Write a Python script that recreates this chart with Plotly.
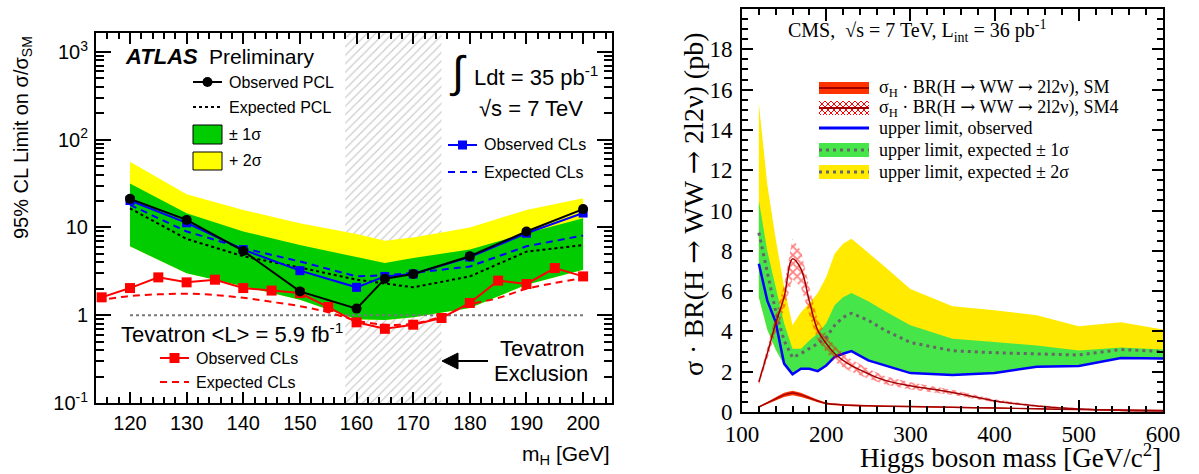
import base64
import plotly.graph_objects as go

# ---------------- ATLAS panel (log scale) ----------------
mass_atlas = [120, 130, 140, 150, 160, 165, 170, 180, 190, 200]
obs_pcl = [21.2, 12.2, 5.4, 1.87, 1.19, 2.6, 2.95, 4.7, 9.0, 16.2]
exp_pcl = [16.5, 7.4, 4.7, 3.5, 2.54, 2.3, 2.08, 2.77, 5.3, 6.3]
obs_cls = [20.3, 11.3, 5.6, 3.22, 2.08, 2.77, 2.95, 4.6, 8.6, 14.6]
exp_cls = [18.1, 9.0, 5.8, 4.1, 2.77, 2.85, 3.03, 3.6, 6.1, 8.1]
band1_lo = [6.1, 3.0, 2.14, 1.5, 0.9, 0.88, 0.95, 1.21, 2.23, 3.3]
band1_hi = [31.8, 14.5, 9.0, 6.3, 4.6, 3.93, 4.5, 5.6, 8.6, 12.7]
band2_hi = [56.0, 23.9, 15.8, 11.2, 8.4, 7.07, 7.7, 10.0, 15.8, 21.5]

tev_mass = [115, 120, 125, 130, 135, 140, 145, 150, 155, 160, 165, 170, 175, 180, 185, 190, 195, 200]
tev_obs = [1.6, 2.04, 2.7, 2.37, 2.54, 2.04, 1.91, 1.79, 1.24, 0.83, 0.7, 0.78, 0.93, 1.38, 2.48, 2.27, 3.45, 2.77]
tev_exp_mass = [110, 115, 120, 125, 130, 135, 140, 145, 150, 155, 160, 165, 170, 175, 180, 185, 190, 195, 200]
tev_exp = [1.38, 1.5, 1.66, 1.73, 1.76, 1.7, 1.58, 1.42, 1.27, 1.08, 0.87, 0.78, 0.8, 0.97, 1.32, 1.57, 2.0, 2.33, 2.65]

tev_excl = [158, 175]          # Tevatron excluded mass window
sm_ratio_mass = [120, 200]
sm_ratio = [1, 1]

# ---------------- CMS panel (linear scale) ----------------
mass_cms = [120, 130, 140, 150, 160, 170, 180, 190, 200, 210, 220, 230, 250, 270, 300, 350, 400, 450, 500, 550, 600]
obs_cms = [7.36, 5.54, 4.46, 2.4, 1.87, 2.15, 2.15, 2.03, 2.31, 2.73, 2.89, 3.02, 2.56, 2.31, 1.93, 1.84, 1.93, 2.25, 2.28, 2.68, 2.65]
exp_cms = [8.9, 7.0, 5.0, 3.55, 2.7, 2.9, 3.14, 3.4, 3.7, 4.3, 4.7, 4.9, 4.55, 4.05, 3.45, 3.04, 2.94, 2.9, 2.83, 3.1, 3.0]
cms1_lo = [5.7, 4.1, 3.1, 2.35, 1.87, 2.15, 2.15, 2.03, 2.31, 2.73, 2.89, 3.02, 2.56, 2.31, 1.93, 1.84, 1.93, 2.25, 2.28, 2.68, 2.65]
cms1_hi = [10.5, 8.0, 6.2, 4.4, 3.14, 3.14, 3.55, 3.9, 4.4, 5.3, 5.7, 5.9, 5.5, 5.0, 4.3, 3.64, 3.47, 3.3, 3.05, 3.2, 3.1]
cms2_hi = [15.3, 11.3, 8.6, 6.2, 4.3, 4.95, 5.4, 5.9, 6.7, 7.85, 8.35, 8.6, 7.9, 7.2, 6.1, 5.25, 5.05, 4.8, 4.25, 4.45, 4.1]

sm_xs = [0.25, 0.45, 0.65, 0.85, 0.94, 0.85, 0.7, 0.55, 0.42, 0.38, 0.35, 0.33, 0.31, 0.29, 0.27, 0.23, 0.2, 0.16, 0.12, 0.1, 0.08]
sm_lo = [0.22, 0.40, 0.57, 0.75, 0.83, 0.75, 0.62, 0.49, 0.37, 0.34, 0.31, 0.29, 0.27, 0.26, 0.24, 0.2, 0.17, 0.14, 0.1, 0.08, 0.06]
sm_hi = [0.28, 0.50, 0.73, 0.95, 1.05, 0.95, 0.78, 0.61, 0.47, 0.42, 0.39, 0.37, 0.35, 0.32, 0.3, 0.26, 0.23, 0.18, 0.14, 0.12, 0.1]
sm4_xs = [1.49, 2.9, 4.4, 5.7, 7.6, 7.1, 5.5, 4.05, 3.4, 2.9, 2.56, 2.3, 1.9, 1.57, 1.3, 0.97, 0.55, 0.3, 0.15, 0.08, 0.05]
sm4_lo = [1.34, 2.6, 3.95, 5.1, 6.6, 6.2, 4.8, 3.55, 2.95, 2.5, 2.21, 2.0, 1.65, 1.37, 1.12, 0.84, 0.47, 0.25, 0.11, 0.05, 0.03]
sm4_hi = [1.64, 3.2, 4.85, 6.3, 8.6, 8.0, 6.2, 4.55, 3.85, 3.3, 2.91, 2.6, 2.15, 1.77, 1.48, 1.1, 0.63, 0.35, 0.19, 0.11, 0.07]

W, H = 1199, 474
SANS = "Liberation Sans"
SERIF = "Liberation Serif"
ARROW = "<span style='font-family:DejaVu Serif'>→</span>"

ATLAS_GREEN = "#00cc00"
ATLAS_YELLOW = "#ffff00"
CMS_GREEN = "#46e64a"
CMS_YELLOW = "#ffea00"


def PX(x):
    return x / W


def PY(y):
    return 1 - y / H


def band(xs, lo, hi):
    return list(xs) + list(xs)[::-1], list(hi) + list(lo)[::-1]


fig = go.Figure()

# ---- left panel ----
fig.add_trace(go.Scatter(
    x=[tev_excl[0], tev_excl[1], tev_excl[1], tev_excl[0]], y=[0.05, 0.05, 5000, 5000],
    fill="toself", mode="none", fillcolor="rgba(255,255,255,0)",
    fillpattern=dict(shape="/", fgcolor="#999999", bgcolor="white", size=6, solidity=0.2),
    xaxis="x", yaxis="y", hoverinfo="skip"))
bx, by = band(mass_atlas, band1_lo, band2_hi)
fig.add_trace(go.Scatter(x=bx, y=by, fill="toself", fillcolor=ATLAS_YELLOW, mode="none",
                         xaxis="x", yaxis="y", hoverinfo="skip"))
bx, by = band(mass_atlas, band1_lo, band1_hi)
fig.add_trace(go.Scatter(x=bx, y=by, fill="toself", fillcolor=ATLAS_GREEN, mode="none",
                         xaxis="x", yaxis="y", hoverinfo="skip"))
fig.add_trace(go.Scatter(x=sm_ratio_mass, y=sm_ratio, mode="lines",
                         line=dict(color="#777777", width=2, dash="3px,3px"), xaxis="x", yaxis="y"))
fig.add_trace(go.Scatter(x=tev_exp_mass, y=tev_exp, mode="lines", line_shape="spline",
                         line=dict(color="red", width=2, dash="7px,5px"), xaxis="x", yaxis="y"))
fig.add_trace(go.Scatter(x=tev_mass, y=tev_obs, mode="lines+markers",
                         line=dict(color="red", width=2),
                         marker=dict(symbol="square", size=10, color="red"), xaxis="x", yaxis="y"))
fig.add_trace(go.Scatter(x=mass_atlas, y=exp_pcl, mode="lines",
                         line=dict(color="black", width=2, dash="3px,3px"), xaxis="x", yaxis="y"))
fig.add_trace(go.Scatter(x=mass_atlas, y=exp_cls, mode="lines",
                         line=dict(color="blue", width=2, dash="7px,5px"), xaxis="x", yaxis="y"))
fig.add_trace(go.Scatter(x=mass_atlas, y=obs_cls, mode="lines+markers",
                         line=dict(color="blue", width=2),
                         marker=dict(symbol="square", size=9, color="blue"), xaxis="x", yaxis="y"))
fig.add_trace(go.Scatter(x=mass_atlas, y=obs_pcl, mode="lines+markers",
                         line=dict(color="black", width=2),
                         marker=dict(symbol="circle", size=10, color="black"), xaxis="x", yaxis="y"))

# ---- right panel ----
bx, by = band(mass_cms, cms1_lo, cms2_hi)
fig.add_trace(go.Scatter(x=bx, y=by, fill="toself", fillcolor=CMS_YELLOW, mode="none",
                         xaxis="x2", yaxis="y2", hoverinfo="skip"))
bx, by = band(mass_cms, cms1_lo, cms1_hi)
fig.add_trace(go.Scatter(x=bx, y=by, fill="toself", fillcolor=CMS_GREEN, mode="none",
                         xaxis="x2", yaxis="y2", hoverinfo="skip"))
fig.add_trace(go.Scatter(x=mass_cms, y=exp_cms, mode="lines",
                         line=dict(color="#666666", width=3, dash="3px,4px"), xaxis="x2", yaxis="y2"))
fig.add_trace(go.Scatter(x=mass_cms, y=obs_cms, mode="lines",
                         line=dict(color="blue", width=2.5), xaxis="x2", yaxis="y2"))
bx, by = band(mass_cms, sm4_lo, sm4_hi)
fig.add_trace(go.Scatter(x=bx, y=by, fill="toself", mode="none", fillcolor="rgba(0,0,0,0)",
                         fillpattern=dict(shape="x", fgcolor="#ff0000", bgcolor="rgba(0,0,0,0)",
                                          size=6, solidity=0.5),
                         xaxis="x2", yaxis="y2", hoverinfo="skip"))
fig.add_trace(go.Scatter(x=mass_cms, y=sm4_xs, mode="lines", line_shape="spline",
                         line=dict(color="#a00000", width=1.5), xaxis="x2", yaxis="y2"))
bx, by = band(mass_cms, sm_lo, sm_hi)
fig.add_trace(go.Scatter(x=bx, y=by, fill="toself", fillcolor="#ff3300", mode="none",
                         xaxis="x2", yaxis="y2", hoverinfo="skip"))
fig.add_trace(go.Scatter(x=mass_cms, y=sm_xs, mode="lines", line_shape="spline",
                         line=dict(color="#a00000", width=1.5), xaxis="x2", yaxis="y2"))

# ---------------- axes ----------------
frame = dict(showline=True, linecolor="black", linewidth=2, mirror="allticks",
             ticks="inside", tickcolor="black", showgrid=False, zeroline=False,
             automargin=False)

log_minor = [m * 10 ** e for e in (-1, 0, 1, 2) for m in range(2, 10)]

fig.update_layout(
    width=W, height=H, margin=dict(l=0, r=0, t=0, b=0, pad=0, autoexpand=False), autosize=False,
    paper_bgcolor="white", plot_bgcolor="white", showlegend=False,
    xaxis=dict(domain=[96 / W, 612 / W], range=[114, 205.1], anchor="y",
               tickmode="linear", tick0=0, dtick=10, ticklen=11, tickwidth=1.5,
               ticklabelstandoff=1,
               minor=dict(ticks="inside", ticklen=6, tick0=0, dtick=2, tickcolor="black"),
               tickfont=dict(family=SANS, size=20, color="black"), **frame),
    yaxis=dict(domain=[1 - 403 / H, 1 - 33 / H], type="log", range=[-1, 3.216], anchor="x",
               tickmode="array", tickvals=[0.1, 1, 10, 100, 1000],
               ticktext=["10<sup>-1</sup>", "1", "10", "10<sup>2</sup>", "10<sup>3</sup>"],
               ticklen=15, tickwidth=1.5, ticklabelstandoff=2,
               minor=dict(ticks="inside", ticklen=8, tickmode="array", tickvals=log_minor,
                          tickcolor="black"),
               tickfont=dict(family=SANS, size=20, color="black"), **frame),
    xaxis2=dict(domain=[742 / W, 1163 / W], range=[100, 600], anchor="y2",
                tickmode="linear", tick0=0, dtick=100, ticklen=12, tickwidth=1.5,
                ticklabelstandoff=0,
                minor=dict(ticks="inside", ticklen=6, tick0=0, dtick=20, tickcolor="black"),
                tickfont=dict(family=SERIF, size=23, color="black"), **frame),
    yaxis2=dict(domain=[1 - 412 / H, 1 - 9 / H], range=[0, 20], anchor="x2",
                tickmode="linear", tick0=0, dtick=2, ticklen=11, tickwidth=1.5, ticklabelstandoff=3,
                minor=dict(ticks="inside", ticklen=6, tick0=0, dtick=0.5, tickcolor="black"),
                tickfont=dict(family=SERIF, size=23, color="black"), **frame),
)


# ---------------- text ----------------
def note(text, x, y, size, family, xanchor="left", yanchor="middle", angle=0):
    return dict(text=text, x=PX(x), y=PY(y), xref="paper", yref="paper", showarrow=False,
                xanchor=xanchor, yanchor=yanchor, textangle=angle,
                font=dict(size=size, family=family, color="black"))


decay = f"BR(H {ARROW} WW {ARROW} 2l2ν)"
ann = [
    note("<b><i>ATLAS</i></b>", 123, 57, 22, SANS),
    note("Preliminary", 207, 57, 21, SANS),
    note("Observed PCL", 227, 82, 16, SANS),
    note("Expected PCL", 227, 107, 16, SANS),
    note("± 1σ", 227, 134, 16, SANS),
    note("+ 2σ", 227, 161, 16, SANS),
    note("∫", 458, 72, 44, SANS, xanchor="center"),
    note("Ldt = 35 pb<sup>-1</sup>", 472, 76, 22, SANS),
    note("√s = 7 TeV", 477, 108, 22, SANS),
    note("Observed CLs", 482, 145, 16, SANS),
    note("Expected CLs", 482, 172, 16, SANS),
    note("Tevatron &lt;L&gt; = 5.9 fb<sup>-1</sup>", 119, 333, 22, SANS),
    note("Observed CLs", 194, 358, 16, SANS),
    note("Expected CLs", 194, 382, 16, SANS),
    note("Tevatron", 542, 348, 22, SANS, xanchor="center"),
    note("Exclusion", 541, 373, 22, SANS, xanchor="center"),
    note("m<sub>H</sub> [GeV]", 612, 455, 21, SANS, xanchor="right"),
    note("95% CL Limit on σ/σ<sub>SM</sub>", 22, 138, 20, SANS, xanchor="center", angle=-90),
    # right panel
    note("CMS,&nbsp;&nbsp;√s = 7 TeV, L<sub>int</sub> = 36 pb<sup>-1</sup>", 786, 31, 20, SERIF),
    note(f"σ<sub>H</sub> · {decay}, SM", 877, 88, 18, SERIF),
    note(f"σ<sub>H</sub> · {decay}, SM4", 877, 108, 18, SERIF),
    note("upper limit, observed", 877, 128, 18, SERIF),
    note("upper limit, expected ± 1σ", 877, 150, 18, SERIF),
    note("upper limit, expected ± 2σ", 877, 172, 18, SERIF),
    note("Higgs boson mass [GeV/c<sup>2</sup>]", 1163, 456, 27, SERIF, xanchor="right"),
    note(f"σ · {decay} (pb)", 693, 204, 28, SERIF, xanchor="center", angle=-90),
]
fig.update_layout(annotations=ann)


# ---------------- legend swatches & arrow ----------------
def pline(x0, y0, x1, y1, color, width=2, dash="solid"):
    return dict(type="line", xref="paper", yref="paper", x0=PX(x0), y0=PY(y0), x1=PX(x1), y1=PY(y1),
                line=dict(color=color, width=width, dash=dash))


def prect(x0, y0, x1, y1, fill, lw=0, lc="black"):
    return dict(type="rect", xref="paper", yref="paper", x0=PX(x0), y0=PY(y0), x1=PX(x1), y1=PY(y1),
                fillcolor=fill, line=dict(color=lc, width=lw))


def pmarker(kind, cx, cy, r, color):
    return dict(type=kind, xref="paper", yref="paper", xsizemode="pixel", ysizemode="pixel",
                xanchor=PX(cx), yanchor=PY(cy), x0=-r, x1=r, y0=-r, y1=r,
                fillcolor=color, line=dict(color=color, width=0))


shapes = [
    pline(193, 82, 222, 82, "black"), pmarker("circle", 207.5, 82, 5, "black"),
    pline(193, 107, 222, 107, "black", dash="3px,3px"),
    prect(193, 125, 222, 144, ATLAS_GREEN, lw=1),
    prect(193, 152, 222, 170, ATLAS_YELLOW, lw=1),
    pline(448, 145, 477, 145, "blue"), pmarker("rect", 462.5, 145, 4.5, "blue"),
    pline(448, 172, 477, 172, "blue", dash="7px,5px"),
    pline(160, 358, 189, 358, "red"), pmarker("rect", 174.5, 358, 5, "red"),
    pline(160, 382, 189, 382, "red", dash="7px,5px"),
    # arrow pointing to the excluded window
    pline(488, 361, 455, 361, "black", width=2),
    dict(type="path", xref="paper", yref="paper",
         path=f"M {PX(442)},{PY(361)} L {PX(458)},{PY(353)} L {PX(458)},{PY(369)} Z",
         fillcolor="black", line=dict(color="black", width=1)),
    # CMS legend
    prect(819, 82, 869, 94, "#ff3300"), pline(819, 88, 869, 88, "#a00000", width=2),
    pline(819, 128, 869, 128, "blue", width=3),
    prect(819, 143, 869, 157, CMS_GREEN), pline(819, 150, 869, 150, "#666666", width=3, dash="3px,4px"),
    prect(819, 165, 869, 179, CMS_YELLOW), pline(819, 172, 869, 172, "#666666", width=3, dash="3px,4px"),
]
fig.update_layout(shapes=shapes)

hatch_svg = (
    '<svg xmlns="http://www.w3.org/2000/svg" width="50" height="14">'
    '<defs><pattern id="h" width="6" height="6" patternUnits="userSpaceOnUse">'
    '<path d="M0,0 L6,6 M6,0 L0,6" stroke="#ff0000" stroke-width="1"/></pattern></defs>'
    '<rect width="50" height="14" fill="url(#h)"/>'
    '<line x1="0" y1="7" x2="50" y2="7" stroke="#a00000" stroke-width="2"/></svg>'
)
fig.add_layout_image(dict(
    source="data:image/svg+xml;base64," + base64.b64encode(hatch_svg.encode()).decode(),
    xref="paper", yref="paper", x=PX(819), y=PY(101), sizex=50 / W, sizey=14 / H,
    xanchor="left", yanchor="top", sizing="stretch", layer="above"))

fig.write_html("out.html")
